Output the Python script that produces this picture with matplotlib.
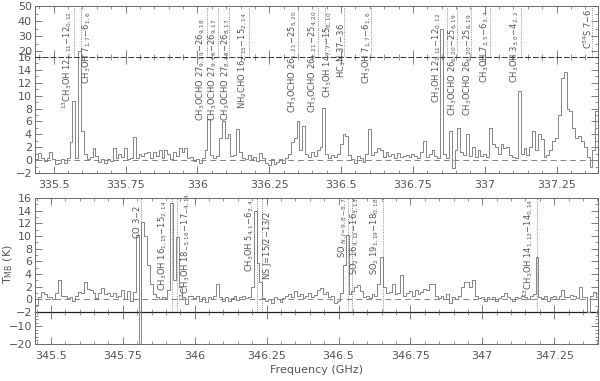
import numpy as np
import matplotlib.pyplot as plt
from matplotlib.ticker import MultipleLocator, FuncFormatter

# spectra: channel values (K), 0.01 GHz channels
top_start = 335.43
bot_start = 345.44
chan = 0.01

top_tmb = [
    0.9, 0.2, 1.1, 0.4, -0.2, 0.3, 1.2, 0.1, -0.6, -0.4,
    0.2, -0.5, 0.3, 2.8, 9.2, 0.4, 20.0, 4.5, 1.0, 0.2,
    0.5, 1.9, 0.6, -0.3, 0.1, -0.5, 0.2, -0.2, 1.9, 0.4,
    1.0, 0.5, 1.8, 0.2, 0.4, 3.6, 0.3, 0.9, 0.6, 1.1,
    1.2, 0.4, 1.3, 0.7, 1.5, 0.3, 1.6, 0.9, 0.2, 1.3,
    0.6, 1.9, 1.2, 1.8, 0.3, 0.5, -0.2, 0.2, -0.5, 0.4,
    1.5, 6.3, 0.8, 0.3, 0.6, 3.5, 6.0, 3.5, 4.0, 0.6,
    0.8, 4.8, 1.2, 0.4, 0.2, 0.8, 0.1, 0.5, -0.2, 1.1,
    0.3, -0.5, -0.8, 0.2, -0.6, -0.3, 0.1, -0.4, 0.4, 1.0,
    2.8, 3.5, 6.0, 1.5, 5.3, 0.9, 0.5, 1.2, 0.6, 1.5,
    2.0, 8.1, 1.0, 0.3, 0.8, 0.5, 1.0, 2.5, 4.0, 3.8,
    0.8, 0.2, -0.5, 0.6, 0.3, -0.3, 1.0, 4.8, 0.8, 1.2,
    1.8, 1.5, 0.5, 1.3, 0.6, 0.9, 0.4, 1.1, 0.5, 0.7,
    0.8, 0.5, 1.0, 0.6, 0.4, 1.2, 2.9, 0.5, 0.9, 1.5,
    0.6, 0.3, 35.0, 1.0, 0.4, 4.5, -1.2, 1.5, 5.0, 1.2,
    0.8, 4.0, 0.6, 2.0, 0.5, 1.5, 0.7, 1.0, 0.5, 5.0,
    2.5, 2.0, 1.0, 2.5, 1.8, 2.0, 0.8, 0.5, 0.3, 10.8,
    1.0, 1.8, 0.8, 2.0, 4.5, 1.5, 4.0, 3.3, 0.5, 0.8,
    1.5, 3.0, 3.5, 7.0, 12.8, 13.6, 8.0, 7.6, 5.0, 3.5,
    3.8, 3.0, 2.0, 0.5, -1.0, 1.5, 7.6,
]

bot_tmb = [
    0.2, -0.9, 0.4, 1.2, 0.9, 0.3, 0.4, 0.1, 1.0, 3.0,
    0.5, 0.6, 0.2, 0.4, -0.3, 0.5, 1.2, 1.0, 2.7, 1.7,
    1.5, 1.0, 0.2, 1.0, 1.8, 0.8, 1.0, 0.5, 1.0, 0.3,
    0.6, 1.5, 0.1, 1.4, -0.2, 1.2, 10.1, -25.0, 12.2, 10.0,
    5.5, 2.5, 0.8, 0.3, 0.1, 0.4, 0.2, 1.5, 15.2, 3.0,
    9.8, 2.0, 0.3, -0.8, 0.5, 0.6, 0.2, 0.5, -0.2, 0.4,
    -0.4, 0.3, 0.1, 0.5, 2.5, 0.3, -0.2, 0.4, -0.3, 0.2,
    0.5, -0.1, 0.3, 0.6, 0.2, 0.4, 1.9, 14.0, 5.7, 2.8,
    0.2, -0.3, 0.1, -0.5, 0.3, 0.0, -0.4, 0.2, 0.5, 0.8,
    0.4, 1.3, 0.6, 0.9, 0.2, 0.6, 1.0, 0.4, 0.7, 1.5,
    1.8, 0.8, 1.2, 0.4, 0.5, -0.5, -0.3, 1.0, 5.5, 10.1,
    0.9, 1.3, 2.0, 2.3, 1.4, 0.4, 0.6, 0.2, 0.8, 0.5,
    2.5, 6.7, 1.9, 1.0, 1.2, 2.5, 0.8, 1.0, 3.8, 0.6,
    1.0, 1.3, 0.6, 1.5, 0.8, 1.2, 1.7, 1.5, 2.5, 2.4,
    0.5, 0.2, 0.6, 0.1, 0.8, -0.5, 0.3, 0.0, 0.5, 1.9,
    2.8, 2.8, 1.9, 3.1, 0.6, 0.2, 0.4, -0.2, 0.3, 0.1,
    0.4, -0.3, 0.2, 0.5, 1.0, 0.3, 0.1, -0.2, 0.4, 0.2,
    0.5, 0.3, 0.1, 0.6, 0.9, 6.7, 0.4, 0.2, 0.6, -0.3,
    0.3, 0.5, 0.0, 0.6, 1.5, 0.4, 0.3, 0.7, 0.5, 0.2,
    1.9, 0.4, 0.3, -2.0, 0.5, 1.2, 0.4,
]

# line identifications
top_line_freq = [335.570, 335.594, 336.032, 336.071, 336.109, 336.178, 336.349,
                 336.419, 336.443, 336.510, 336.603, 336.867, 336.902, 336.951,
                 337.017, 337.125, 337.372]
top_text_freq = [335.545, 335.615, 336.011, 336.053, 336.098, 336.158, 336.332,
                 336.401, 336.455, 336.502, 336.589, 336.833, 336.888, 336.940,
                 336.999, 337.104, 337.358]
top_text_y = [7.9, 11.8, 6.1, 6.1, 6.1, 7.9, 7.3, 7.3, 9.6, 12.7, 11.8, 8.9,
              6.8, 6.8, 12.0, 12.0, 17.2]
top_labels = [
    r'$^{13}$CH$_3$OH 12$_{1,11}$$-$12$_{0,12}$',
    r'CH$_3$OH 7$_{1,7}$$-$6$_{1,6}$',
    r'CH$_3$OCHO 27$_{9,19}$$-$26$_{9,18}$',
    r'CH$_3$OCHO 27$_{9,18}$$-$26$_{9,17}$',
    r'CH$_3$OCHO 27$_{8,18}$$-$26$_{8,17}$',
    r'NH$_2$CHO 16$_{2,15}$$-$15$_{2,14}$',
    r'CH$_3$OCHO 26$_{5,21}$$-$25$_{5,20}$',
    r'CH$_3$OCHO 26$_{4,21}$$-$25$_{4,20}$',
    r'CH$_3$OH 14$_{7,7}$$-$15$_{6,10}$',
    r'HC$_3$N 37$-$36',
    r'CH$_3$OH 7$_{1,7}$$-$6$_{1,6}$',
    r'CH$_3$OH 12$_{1,11}$$-$12$_{0,12}$',
    r'CH$_3$OCHO 26$_{6,20}$$-$25$_{6,19}$',
    r'CH$_3$OCHO 26$_{6,20}$$-$25$_{6,19}$',
    r'CH$_3$OH 7$_{2,5}$$-$6$_{3,4}$',
    r'CH$_3$OH 3$_{3,0}$$-$4$_{2,2}$',
    r'C$^{34}$S 7$-$6',
]

bot_line_freq = [345.813, 345.921, 345.938, 346.217, 346.234, 346.533, 346.547,
                 346.655, 347.191]
bot_text_freq = [345.799, 345.890, 345.966, 346.192, 346.252, 346.516, 346.558,
                 346.627, 347.160]
bot_text_y = [9.5, 1.3, -0.2, 4.3, 3.0, 6.6, 3.8, 3.8, 0.3]
bot_labels = [
    r'CO 3$-$2',
    r'CH$_3$OH 16$_{1,15}$$-$15$_{2,14}$',
    r'$^{13}$CH$_3$OH 18$_{-3,16}$$-$17$_{-4,14}$',
    r'CH$_3$OH 5$_{4,1}$$-$6$_{3,4}$',
    r'NS J=15/2$-$13/2',
    r'SO $_{N,J=9,8-8,7}$',
    r'SO$_2$ 16$_{4,12}$$-$16$_{3,13}$',
    r'SO$_2$ 19$_{1,19}$$-$18$_{0,18}$',
    r'$^{13}$CH$_3$OH 14$_{1,13}$$-$14$_{0,14}$',
]

GRAY = '#6a6a6a'
SPEC = '#858585'
TXT = '#555555'

top_freq = top_start + chan * np.arange(len(top_tmb))
bot_freq = bot_start + chan * np.arange(len(bot_tmb))

fig = plt.figure(figsize=(6, 3.81), dpi=100)
L, W = 0.058, 0.939


def style(ax, xlim, ylim, major, minor):
    ax.set_xlim(*xlim)
    ax.set_ylim(*ylim)
    ax.patch.set_visible(False)
    ax.xaxis.set_major_locator(MultipleLocator(0.25))
    ax.xaxis.set_minor_locator(MultipleLocator(0.05))
    ax.yaxis.set_major_locator(MultipleLocator(major))
    ax.yaxis.set_minor_locator(MultipleLocator(minor))
    ax.tick_params(which='both', direction='in', top=True, right=True,
                   colors=GRAY, labelsize=8, labelcolor=TXT)
    ax.tick_params(which='major', length=5, width=0.6)
    ax.tick_params(which='minor', length=2.5, width=0.5)
    ax.tick_params(axis='x', labelbottom=False, pad=5)
    ax.tick_params(axis='y', pad=2)
    for s in ax.spines.values():
        s.set_color(GRAY)
        s.set_linewidth(0.7)


fmt = FuncFormatter(lambda v, p: '%g' % v)

# ---- top panel
xl_top = (335.434, 337.395)
ax1u = fig.add_axes([L, 0.8504, W, 0.984 - 0.8504])
ax1l = fig.add_axes([L, 0.546, W, 0.8504 - 0.546])
style(ax1u, xl_top, (16, 50), 10, 5)
style(ax1l, xl_top, (-2, 16), 2, 1)
ax1u.set_yticks([20, 30, 40, 50])
ax1u.spines['bottom'].set_visible(False)
ax1l.spines['top'].set_linestyle((0, (5, 3)))
ax1l.spines['top'].set_color('#333333')
ax1l.tick_params(axis='x', labelbottom=True)
ax1l.xaxis.set_major_formatter(fmt)
for a in (ax1u, ax1l):
    a.step(top_freq, top_tmb, where='mid', color=SPEC, lw=0.7)
ax1l.axhline(0, color=SPEC, lw=0.7, ls=(0, (6, 4)))
for f in top_line_freq:
    ax1u.axvline(f, color=GRAY, lw=0.6, ls=':')
for f, y, s in zip(top_text_freq, top_text_y, top_labels):
    ax1l.text(f, y, s, rotation=90, ha='center', va='bottom',
              fontsize=6, color=TXT)

# ---- bottom panel
xl_bot = (345.444, 347.403)
ax2u = fig.add_axes([L, 0.181, W, 0.480 - 0.181])
ax2l = fig.add_axes([L, 0.097, W, 0.181 - 0.097])
style(ax2u, xl_bot, (-2, 16), 2, 1)
style(ax2l, xl_bot, (-20, -2), 10, 2)
ax2l.set_yticks([-20, -10])
ax2u.spines['bottom'].set_color('#222222')
ax2u.spines['bottom'].set_linewidth(0.9)
ax2l.spines['top'].set_visible(False)
ax2l.tick_params(axis='x', labelbottom=True)
ax2l.xaxis.set_major_formatter(fmt)
for a in (ax2u, ax2l):
    a.step(bot_freq, bot_tmb, where='mid', color=SPEC, lw=0.7)
ax2u.axhline(0, color=SPEC, lw=0.7, ls=(0, (6, 4)))
for f in bot_line_freq:
    ax2u.axvline(f, color=GRAY, lw=0.6, ls=':')
for f, y, s in zip(bot_text_freq, bot_text_y, bot_labels):
    ax2u.text(f, y, s, rotation=90, ha='center', va='bottom',
              fontsize=6, color=TXT)

ax2u.set_ylabel(r'T$_{\rm MB}$ (K)', fontsize=8, color=TXT)
ax2u.yaxis.set_label_coords(-0.035, 0.42)
ax2l.set_xlabel('Frequency (GHz)', fontsize=8, color=TXT, labelpad=3)

fig.savefig('out.png', dpi=100)
